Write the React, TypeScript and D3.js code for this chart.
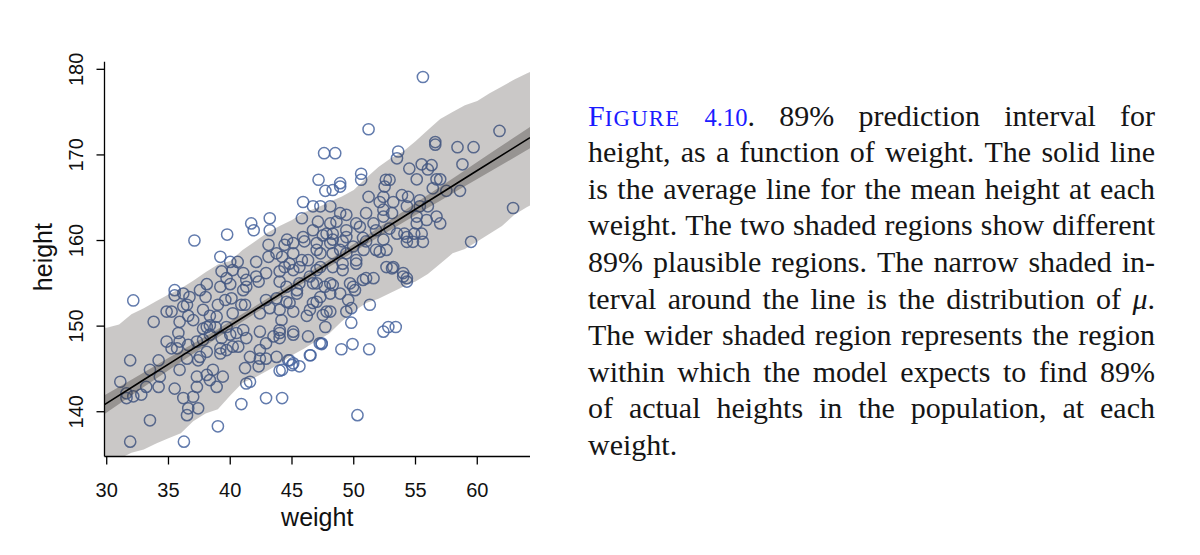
import React, { useEffect, useRef } from 'react';
import * as d3 from 'd3';

// ---------- data ----------
const weights = [
  51.2, 47.6, 48.5, 47.15, 50.6, 50.6, 47.7, 48.3, 48.9, 52.6, 52.5, 51.2, 52.1, 45.9, 46.7, 47.3, 48.1, 48.9, 49.4, 51.0,
  52.4, 45.8, 47.1, 48.1, 50.2, 51.6, 43.2, 41.7, 41.9, 43.2, 46.7, 47.8, 48.3, 49.4, 50.5, 51.8, 39.75, 37.1, 43.1, 44.6,
  44.4, 46.0, 47.0, 48.1, 49.1, 49.95, 51.0, 52.4, 39.2, 40.0, 40.6, 42.1, 43.1, 44.2, 45.1, 45.8, 46.3, 47.3, 48.3, 49.4,
  50.2, 50.8, 52.1, 39.3, 39.7, 41.05, 42.1, 42.9, 44.0, 45.1, 45.6, 47.0, 48.3, 49.1, 50.2, 51.0, 51.6, 52.65, 38.1, 35.5,
  40.0, 41.3, 42.3, 44.0, 45.6, 47.0, 48.1, 49.7, 32.15, 35.5, 34.85, 35.25, 36.5, 33.8, 35.9, 36.6, 38.35, 39.0, 39.6, 40.1,
  40.9, 41.2, 37.8, 38.1, 38.8, 35.8, 35.9, 34.85, 35.25, 35.7, 36.6, 37.3, 37.8, 38.35, 39.3, 40.0, 40.5, 41.05, 40.65, 39.2,
  38.1, 37.4, 36.5, 34.2, 31.9, 35.9, 33.5, 34.3, 34.2, 33.2, 31.1, 31.6, 32.8, 32.15, 31.6, 35.5, 37.3, 38.35, 38.9, 39.4,
  38.1, 36.2, 36.6, 36.5, 37.4, 33.5, 39.0, 31.9, 36.25, 40.9, 41.3, 41.2, 42.9, 44.2, 41.6, 44.0, 44.8, 45.6, 46.45, 47.4,
  42.3, 42.4, 42.9, 38.6, 37.3, 39.7, 42.4, 43.5, 45.1, 44.0, 41.3, 37.0, 54.3, 51.3, 49.8, 47.7, 52.4, 52.8, 53.4, 45.1,
  47.4, 49.0, 49.9, 51.25, 46.5, 44.7, 45.0, 44.2, 50.3, 46.2, 47.8, 48.1, 49.4, 49.8, 49.55, 50.1, 46.7, 47.0, 44.55, 44.15,
  44.0, 45.4, 47.65, 48.3, 50.75, 53.1, 54.0, 54.3, 55.6, 54.3, 54.8, 59.5, 55.6, 61.8, 56.6, 56.6, 58.4, 59.7, 53.6, 53.5,
  58.8, 55.5, 56.3, 54.5, 56.0, 55.1, 56.7, 57.0, 52.9, 56.4, 57.5, 58.6, 54.4, 53.2, 55.35, 56.0, 54.3, 62.9, 53.1, 55.1,
  56.7, 57.0, 55.1, 55.9, 53.5, 54.1, 54.9, 55.5, 52.4, 48.9, 52.4, 53.9, 55.35, 48.6, 52.9, 54.3, 47.5, 49.4, 50.75, 48.3,
  51.8, 52.65, 47.0, 48.9, 44.4, 49.1, 53.2, 54.0, 49.95, 46.7, 44.55, 45.4, 48.1, 48.9, 36.7, 38.0, 42.9, 43.75, 44.8, 47.3,
  42.4, 43.2, 44.0, 45.1, 46.45, 47.5, 40.2, 38.9, 37.8, 36.2, 37.0, 38.35, 39.7, 42.4, 44.0, 46.3, 47.25, 42.9, 40.2, 39.2,
  37.55, 41.6, 43.75, 45.1, 40.2, 41.3, 41.05, 43.75, 44.8, 46.45, 47.3, 45.1, 45.9, 39.2, 37.55, 36.2,
];
const heights = [
  173.0, 170.2, 170.2, 167.1, 167.8, 167.1, 165.8, 165.9, 166.3, 167.1, 166.3, 165.1, 164.5, 164.5, 164.0, 164.0, 164.0, 163.2, 163.0, 163.2,
  163.6, 162.6, 162.2, 162.0, 162.0, 162.0, 162.6, 162.0, 161.2, 161.2, 161.2, 160.8, 160.8, 161.2, 161.6, 161.2, 160.7, 160.0, 159.5, 160.1,
  159.5, 159.9, 159.7, 159.7, 159.9, 159.3, 159.9, 160.1, 158.1, 157.5, 157.5, 157.5, 158.1, 158.1, 158.5, 157.7, 157.7, 158.5, 158.5, 158.5,
  157.7, 158.9, 158.7, 156.4, 155.6, 156.2, 155.8, 156.2, 156.4, 156.55, 156.9, 156.55, 156.9, 156.55, 157.3, 155.6, 155.6, 156.9, 154.9, 154.2,
  154.9, 154.6, 155.2, 155.2, 155.0, 155.0, 155.0, 155.0, 153.0, 153.6, 151.7, 151.7, 152.5, 150.5, 150.5, 151.2, 151.2, 152.5, 153.05, 153.25,
  152.5, 152.5, 149.7, 149.9, 149.9, 149.2, 148.2, 148.2, 147.4, 147.4, 147.8, 148.2, 148.4, 149.0, 148.6, 149.0, 149.2, 149.55, 147.6, 147.4,
  147.0, 146.0, 146.2, 146.0, 146.0, 144.9, 144.9, 144.1, 142.9, 142.9, 143.5, 142.15, 142.0, 141.8, 141.6, 142.7, 142.9, 143.7, 142.9, 144.1,
  144.3, 141.6, 140.4, 139.6, 140.4, 139.0, 138.3, 136.5, 136.5, 140.9, 143.3, 145.1, 141.6, 141.6, 143.5, 144.8, 146.0, 145.3, 146.6, 147.9,
  145.3, 146.2, 146.2, 144.9, 144.1, 147.2, 147.2, 148.8, 149.0, 148.6, 148.6, 141.75, 155.2, 152.5, 150.4, 149.9, 149.35, 149.9, 149.9, 149.35,
  148.0, 147.3, 147.9, 147.3, 146.6, 146.0, 145.45, 144.9, 139.6, 151.2, 151.7, 151.7, 151.7, 152.1, 153.05, 154.2, 152.7, 152.85, 152.85, 150.7,
  149.2, 154.2, 154.6, 154.8, 155.4, 156.75, 156.2, 155.6, 159.85, 159.85, 159.85, 159.85, 179.1, 172.8, 171.5, 171.2, 170.9, 170.9, 170.4, 169.6,
  168.9, 168.9, 168.8, 168.4, 168.3, 167.15, 167.15, 167.15, 167.1, 166.1, 165.8, 165.8, 165.1, 164.5, 164.0, 164.0, 164.0, 163.8, 163.2, 162.8,
  162.8, 162.0, 162.0, 162.4, 160.8, 160.8, 160.8, 160.8, 162.8, 166.7, 165.1, 165.3, 164.7, 162.2, 161.4, 160.4, 160.6, 160.4, 160.3, 160.1,
  158.9, 158.9, 158.9, 158.9, 156.9, 157.3, 156.9, 155.8, 154.6, 155.0, 154.6, 153.8, 153.8, 153.8, 153.4, 153.4, 153.05, 153.25, 152.7, 153.4,
  151.5, 152.1, 151.9, 151.7, 151.9, 151.3, 151.5, 151.1, 151.9, 152.3, 150.7, 150.1, 149.9, 149.35, 149.55, 148.8, 148.0, 148.0, 147.6, 146.8,
  146.4, 146.4, 146.4, 145.65, 156.55, 155.4, 154.2, 158.5, 157.3, 155.8, 156.9, 159.7, 160.4, 154.6, 154.2, 153.8,
];

// 89% prediction interval of height (simulated, jagged)
const piWeight = [29.82, 30, 31, 32, 33, 34, 35, 36, 37, 38, 39, 40, 41, 42, 43, 44, 45, 46, 47, 48, 49, 50, 51, 52, 53, 54, 55, 56, 57, 58, 59, 60, 61, 62, 63, 64, 64.27];
const piUpper = [149.8, 149.8, 150.2, 151.4, 152.1, 152.9, 153.7, 154.4, 155.3, 156.3, 157.2, 157.6, 158.9, 159.9, 160.9, 161.7, 162.4, 163.3, 163.8, 164.5, 165.1, 165.9, 167.3, 168.6, 169.6, 170.4, 171.6, 172.9, 174.2, 175.0, 175.8, 176.3, 177.2, 178.0, 178.8, 179.5, 179.7];
const piLower = [132.4, 132.6, 134.5, 135.2, 135.6, 136.3, 136.9, 137.5, 138.9, 139.8, 140.3, 141.9, 143.4, 144.0, 144.8, 145.6, 146.6, 147.4, 148.3, 149.1, 150.5, 151.7, 152.7, 153.2, 153.9, 154.6, 155.2, 156.1, 157.3, 158.5, 159.0, 159.9, 160.8, 161.7, 163.0, 163.9, 164.1];

// mean line and 89% interval of mu
const muWeight = [29.82, 33, 36, 39, 42, 45, 48, 51, 54, 57, 60, 64.27];
const muMean = [140.83, 143.74, 146.46, 149.17, 151.89, 154.6, 157.32, 160.03, 162.75, 165.46, 168.18, 172.02];
const muLower = [139.73, 142.89, 145.81, 148.67, 151.47, 154.2, 156.9, 159.53, 162.1, 164.64, 167.18, 170.77];
const muUpper = [141.93, 144.59, 147.11, 149.67, 152.31, 155.0, 157.74, 160.53, 163.4, 166.28, 169.18, 173.27];

const xTicks = [30, 35, 40, 45, 50, 55, 60];
const yTicks = [140, 150, 160, 170, 180];
const xLabel = 'weight';
const yLabel = 'height';

const captionLines = [
  'FIGURE 4.10. 89% prediction interval for',
  'height, as a function of weight. The solid line',
  'is the average line for the mean height at each',
  'weight. The two shaded regions show different',
  '89% plausible regions. The narrow shaded in-',
  'terval around the line is the distribution of μ.',
  'The wider shaded region represents the region',
  'within which the model expects to find 89%',
  'of actual heights in the population, at each',
  'weight.',
];

// ---------- layout ----------
const W = 1200;
const H = 555;
const PL = 104.5, PR = 530, PT = 61.7, PB = 456.5;
const SANS = "'Liberation Sans', Arial, Helvetica, sans-serif";
const SERIF = "'Liberation Serif', 'Times New Roman', serif";
const CAP_LEFT = 588, CAP_RIGHT = 1155, CAP_TOP = 125.5, CAP_LEAD = 36.6, CAP_SIZE = 30;
const BLUE = '#1b1bff';

export default function App() {
  const capRef = useRef<SVGGElement>(null);

  const x = d3.scaleLinear().domain([29.82, 64.27]).range([PL, PR]);
  const y = d3.scaleLinear().domain([134.77, 180.89]).range([PB, PT]);

  const piArea = d3
    .area<number>()
    .x((_, i) => x(piWeight[i]))
    .y0((_, i) => y(piLower[i]))
    .y1((_, i) => y(piUpper[i]))
    .curve(d3.curveLinear)(piWeight) as string;

  const muArea = d3
    .area<number>()
    .x((_, i) => x(muWeight[i]))
    .y0((_, i) => y(muLower[i]))
    .y1((_, i) => y(muUpper[i]))
    .curve(d3.curveMonotoneX)(muWeight) as string;

  const muLine = d3
    .line<number>()
    .x((_, i) => x(muWeight[i]))
    .y((_, i) => y(muMean[i]))(muWeight) as string;

  useEffect(() => {
    const g = d3.select(capRef.current);
    g.selectAll('*').remove();
    captionLines.forEach((line, i) => {
      const yy = CAP_TOP + i * CAP_LEAD;
      const words = line.split(' ').filter(Boolean);
      const nodes = words.map((w) => {
        const t = g
          .append('text')
          .attr('y', yy)
          .attr('font-family', SERIF)
          .attr('font-size', CAP_SIZE)
          .attr('fill', '#151515');
        if (w === 'FIGURE') {
          t.append('tspan').attr('fill', BLUE).text('F');
          t.append('tspan').attr('fill', BLUE).attr('font-size', CAP_SIZE * 0.76).attr('letter-spacing', 1.2).text('IGURE');
        } else if (w === '4.10.') {
          t.append('tspan').attr('fill', BLUE).attr('font-size', CAP_SIZE * 0.82).text('4.10');
          t.append('tspan').text('.');
        } else if (w === 'μ.') {
          t.append('tspan').attr('font-style', 'italic').text('μ');
          t.append('tspan').text('.');
        } else {
          t.text(w);
        }
        return t;
      });
      const widths = nodes.map((n) => (n.node() as SVGTextElement).getComputedTextLength());
      const total = d3.sum(widths);
      const justify = i < captionLines.length - 1 && words.length > 1;
      const gap = justify ? (CAP_RIGHT - CAP_LEFT - total) / (words.length - 1) : CAP_SIZE * 0.25;
      let cx = CAP_LEFT;
      nodes.forEach((n, k) => {
        n.attr('x', cx);
        cx += widths[k] + gap;
      });
    });
  }, []);

  return (
    <svg
      width={W}
      height={H}
      viewBox={`0 0 ${W} ${H}`}
      style={{ position: 'absolute', left: 0, top: 0, background: '#fff' }}
    >
      <defs>
        <clipPath id="plotClip">
          <rect x={PL} y={PT} width={PR - PL} height={PB - PT} />
        </clipPath>
      </defs>
      <g clipPath="url(#plotClip)">
        {weights.map((w, i) => (
          <circle
            key={i}
            cx={x(w)}
            cy={y(heights[i])}
            r={5.6}
            fill="none"
            stroke="#46649f"
            strokeOpacity={0.85}
            strokeWidth={1.5}
          />
        ))}
        <path d={piArea} fill="#3a3530" fillOpacity={0.27} />
        <path d={muArea} fill="#3a3530" fillOpacity={0.35} />
        <path d={muLine} fill="none" stroke="#000" strokeWidth={1.6} />
      </g>

      {/* axes (bty = "l") */}
      <line x1={PL} x2={PL} y1={PT} y2={PB} stroke="#000" strokeWidth={1.3} />
      <line x1={PL} x2={PR} y1={PB} y2={PB} stroke="#000" strokeWidth={1.3} />
      {xTicks.map((t) => (
        <g key={`x${t}`}>
          <line x1={x(t)} x2={x(t)} y1={PB} y2={PB + 8} stroke="#000" strokeWidth={1.3} />
          <text x={x(t)} y={497} textAnchor="middle" fontFamily={SANS} fontSize={20} fill="#111">
            {t}
          </text>
        </g>
      ))}
      {yTicks.map((t) => (
        <g key={`y${t}`}>
          <line x1={PL} x2={PL - 8} y1={y(t)} y2={y(t)} stroke="#000" strokeWidth={1.3} />
          <text
            transform={`translate(83, ${y(t)}) rotate(-90)`}
            textAnchor="middle"
            fontFamily={SANS}
            fontSize={20}
            fill="#111"
          >
            {t}
          </text>
        </g>
      ))}
      <text x={(PL + PR) / 2} y={526} textAnchor="middle" fontFamily={SANS} fontSize={25} fill="#111">
        {xLabel}
      </text>
      <text
        transform={`translate(52, ${(PT + PB) / 2 - 2}) rotate(-90)`}
        textAnchor="middle"
        fontFamily={SANS}
        fontSize={25}
        fill="#111"
      >
        {yLabel}
      </text>

      <g ref={capRef} />
    </svg>
  );
}
